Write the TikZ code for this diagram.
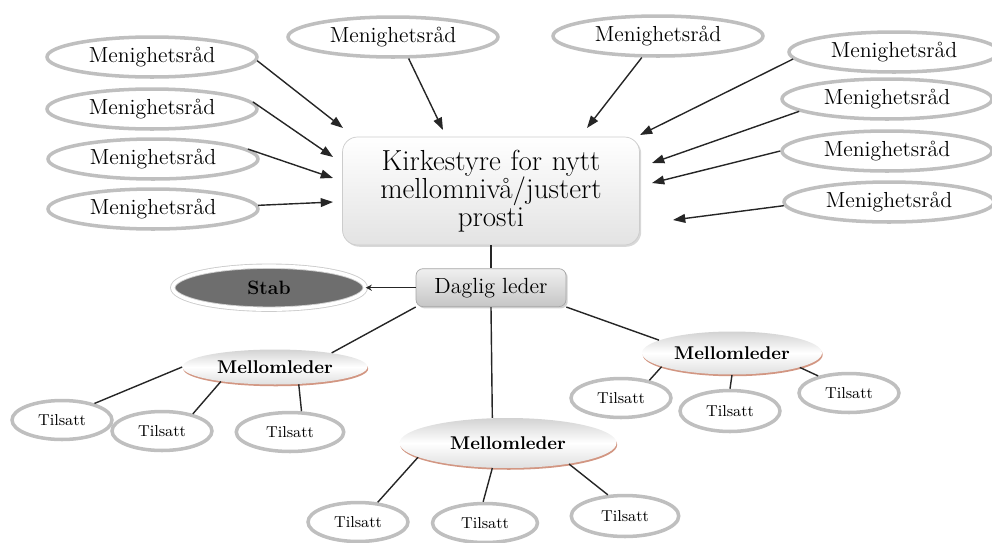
\documentclass[tikz,border=0pt]{standalone}
\usepackage{fontspec}
\usepackage{tikz}
\usetikzlibrary{arrows.meta}
\usetikzlibrary{positioning}
\usetikzlibrary{shadows}
\usetikzlibrary{shapes.geometric}

\begin{document}
\begin{tikzpicture}
  [
    x = 0.02cm, y = -0.02cm,
    every node/.style = {text = black},
    menig/.style = {ellipse, draw = gray!50, line width = 2pt, inner sep = 0pt,
                    minimum width = 4.2cm, minimum height = 0.8cm,
                    font = \fontsize{12.4}{14}\selectfont},
    tilsatt/.style = {ellipse, draw = gray!50, line width = 2pt, inner sep = 0pt,
                    minimum width = 2cm, minimum height = 0.78cm,
                    font = \fontsize{9}{11}\selectfont},
    styre/.style = {rectangle, rounded corners = 0.3cm, draw = gray!40,
                    top color = white, bottom color = gray!22,
                    drop shadow = {shadow xshift = 1pt, shadow yshift = -1pt, fill = gray!60},
                    minimum width = 5.94cm, minimum height = 2.16cm,
                    text width = 5.6cm, align = center,
                    font = \fontsize{16.5}{15.8}\selectfont},
    leder/.style = {rectangle, rounded corners = 4pt, draw = gray!70,
                    top color = gray!12, bottom color = gray!45,
                    drop shadow = {shadow xshift = 1pt, shadow yshift = -1pt, fill = gray!70},
                    minimum width = 3cm, minimum height = 0.76cm,
                    font = \fontsize{12.5}{14}\selectfont},
    stab/.style = {ellipse, fill = black!57, draw = gray!40, double = white,
                   double distance = 2pt, line width = 0.5pt,
                   drop shadow = {shadow xshift = 0.5pt, shadow yshift = -1pt, fill = gray!60},
                   minimum width = 3.85cm, minimum height = 0.86cm,
                   font = \bfseries\fontsize{11}{13}\selectfont},
    mellom/.style = {ellipse, top color = gray!35, bottom color = gray!25, middle color = white,
                     drop shadow = {shadow xshift = 0.4pt, shadow yshift = -1pt,
                                    fill = {rgb,255:red,210;green,150;blue,130}, opacity = 1},
                     inner sep = 0pt, font = \bfseries\fontsize{10.5}{12}\selectfont},
    arrow/.style = {-{Triangle[length = 7pt, width = 5pt]}, line width = 0.8pt, draw = black!85},
    link/.style = {line width = 0.8pt, draw = black!85},
  ]

  \useasboundingbox (0,0) rectangle (992,542);

  % centre
  \node[styre] (box) at (491,191) {Kirkestyre for nytt\\ mellomnivå/justert\\ prosti};
  \node[leder] [below = 0.46cm of box] (leder) {Daglig leder};
  \node[stab] [left = 1cm of leder] (stab) {Stab};

  % menighetsraad
  \node[menig] (ml1) at (152,57) {Menighetsråd};
  \node[menig] (ml2) at (152,109) {Menighetsråd};
  \node[menig] (ml3) at (153,159) {Menighetsråd};
  \node[menig] (ml4) at (153,209) {Menighetsråd};
  \node[menig] (mt1) at (393,37) {Menighetsråd};
  \node[menig] (mt2) at (658,36) {Menighetsråd};
  \node[menig] (mr1) at (894,52) {Menighetsråd};
  \node[menig] (mr2) at (887,99) {Menighetsråd};
  \node[menig] (mr3) at (887,151) {Menighetsråd};
  \node[menig] (mr4) at (889,202) {Menighetsråd};

  \coordinate (inn1) at (343,128);
  \coordinate (inn2) at (333,157);
  \coordinate (inn3) at (333,178);
  \coordinate (inn4) at (333,202);
  \coordinate (inn5) at (443,130);
  \coordinate (inn6) at (587,128);
  \coordinate (inn7) at (640,135);
  \coordinate (inn8) at (652,163);
  \coordinate (inn9) at (652,183);
  \coordinate (inn10) at (673,220);

  \draw[arrow] (ml1.-2) -- (inn1);
  \draw[arrow] (ml2.4) -- (inn2);
  \draw[arrow] (ml3.6) -- (inn3);
  \draw[arrow] (ml4.2) -- (inn4);
  \draw[arrow] (mt1.-54) -- (inn5);
  \draw[arrow] (mt2.-127) -- (inn6);
  \draw[arrow] (mr1.-176) -- (inn7);
  \draw[arrow] (mr2.-172) -- (inn8);
  \draw[arrow] (mr3.west) -- (inn9);
  \draw[arrow] (mr4.-178) -- (inn10);

  \draw[link] (box.south) -- (leder.north);
  \draw[link, -{Stealth[length = 3.5pt, width = 3.5pt]}] (leder.west) -- (stab.east);

  % mellomledere
  \node[mellom, minimum width = 3.7cm, minimum height = 0.7cm] (m1) at (275,367) {Mellomleder};
  \node[mellom, minimum width = 4.34cm, minimum height = 1cm] (m2) at (508,443) {Mellomleder};
  \node[mellom, minimum width = 3.6cm, minimum height = 0.86cm] (m3) at (732,353) {Mellomleder};

  \draw[link] (leder.south west) -- (m1.14);
  \draw[link] (leder.south) -- (m2.122);
  \draw[link] (leder.south east) -- (m3.170);

  % tilsatte
  \node[tilsatt] (t1) at (62,420) {Tilsatt};
  \node[tilsatt] (t2) at (162,431) {Tilsatt};
  \node[tilsatt, minimum width = 2.15cm] (t3) at (290,432) {Tilsatt};
  \node[tilsatt] (t4) at (358,522) {Tilsatt};
  \node[tilsatt, minimum width = 2.1cm] (t5) at (485,523) {Tilsatt};
  \node[tilsatt, minimum width = 2.15cm, minimum height = 0.82cm] (t6) at (625,516) {Tilsatt};
  \node[tilsatt] (t7) at (621,398) {Tilsatt};
  \node[tilsatt, minimum height = 0.82cm] (t8) at (730,411) {Tilsatt};
  \node[tilsatt] (t9) at (849,393) {Tilsatt};

  \draw[link] (m1.west) -- (t1.27);
  \draw[link] (m1.-165) -- (t2.29);
  \draw[link] (m1.-36) -- (t3.61);
  \draw[link] (m2.-171) -- (t4.45);
  \draw[link] (m2.-122) -- (t5.95);
  \draw[link] (m2.-19) -- (t6.129);
  \draw[link] (m3.-169) -- (t7.32);
  \draw[link] (m3.south) -- (t8.north);
  \draw[link] (m3.-12) -- (t9.151);

\end{tikzpicture}
\end{document}
